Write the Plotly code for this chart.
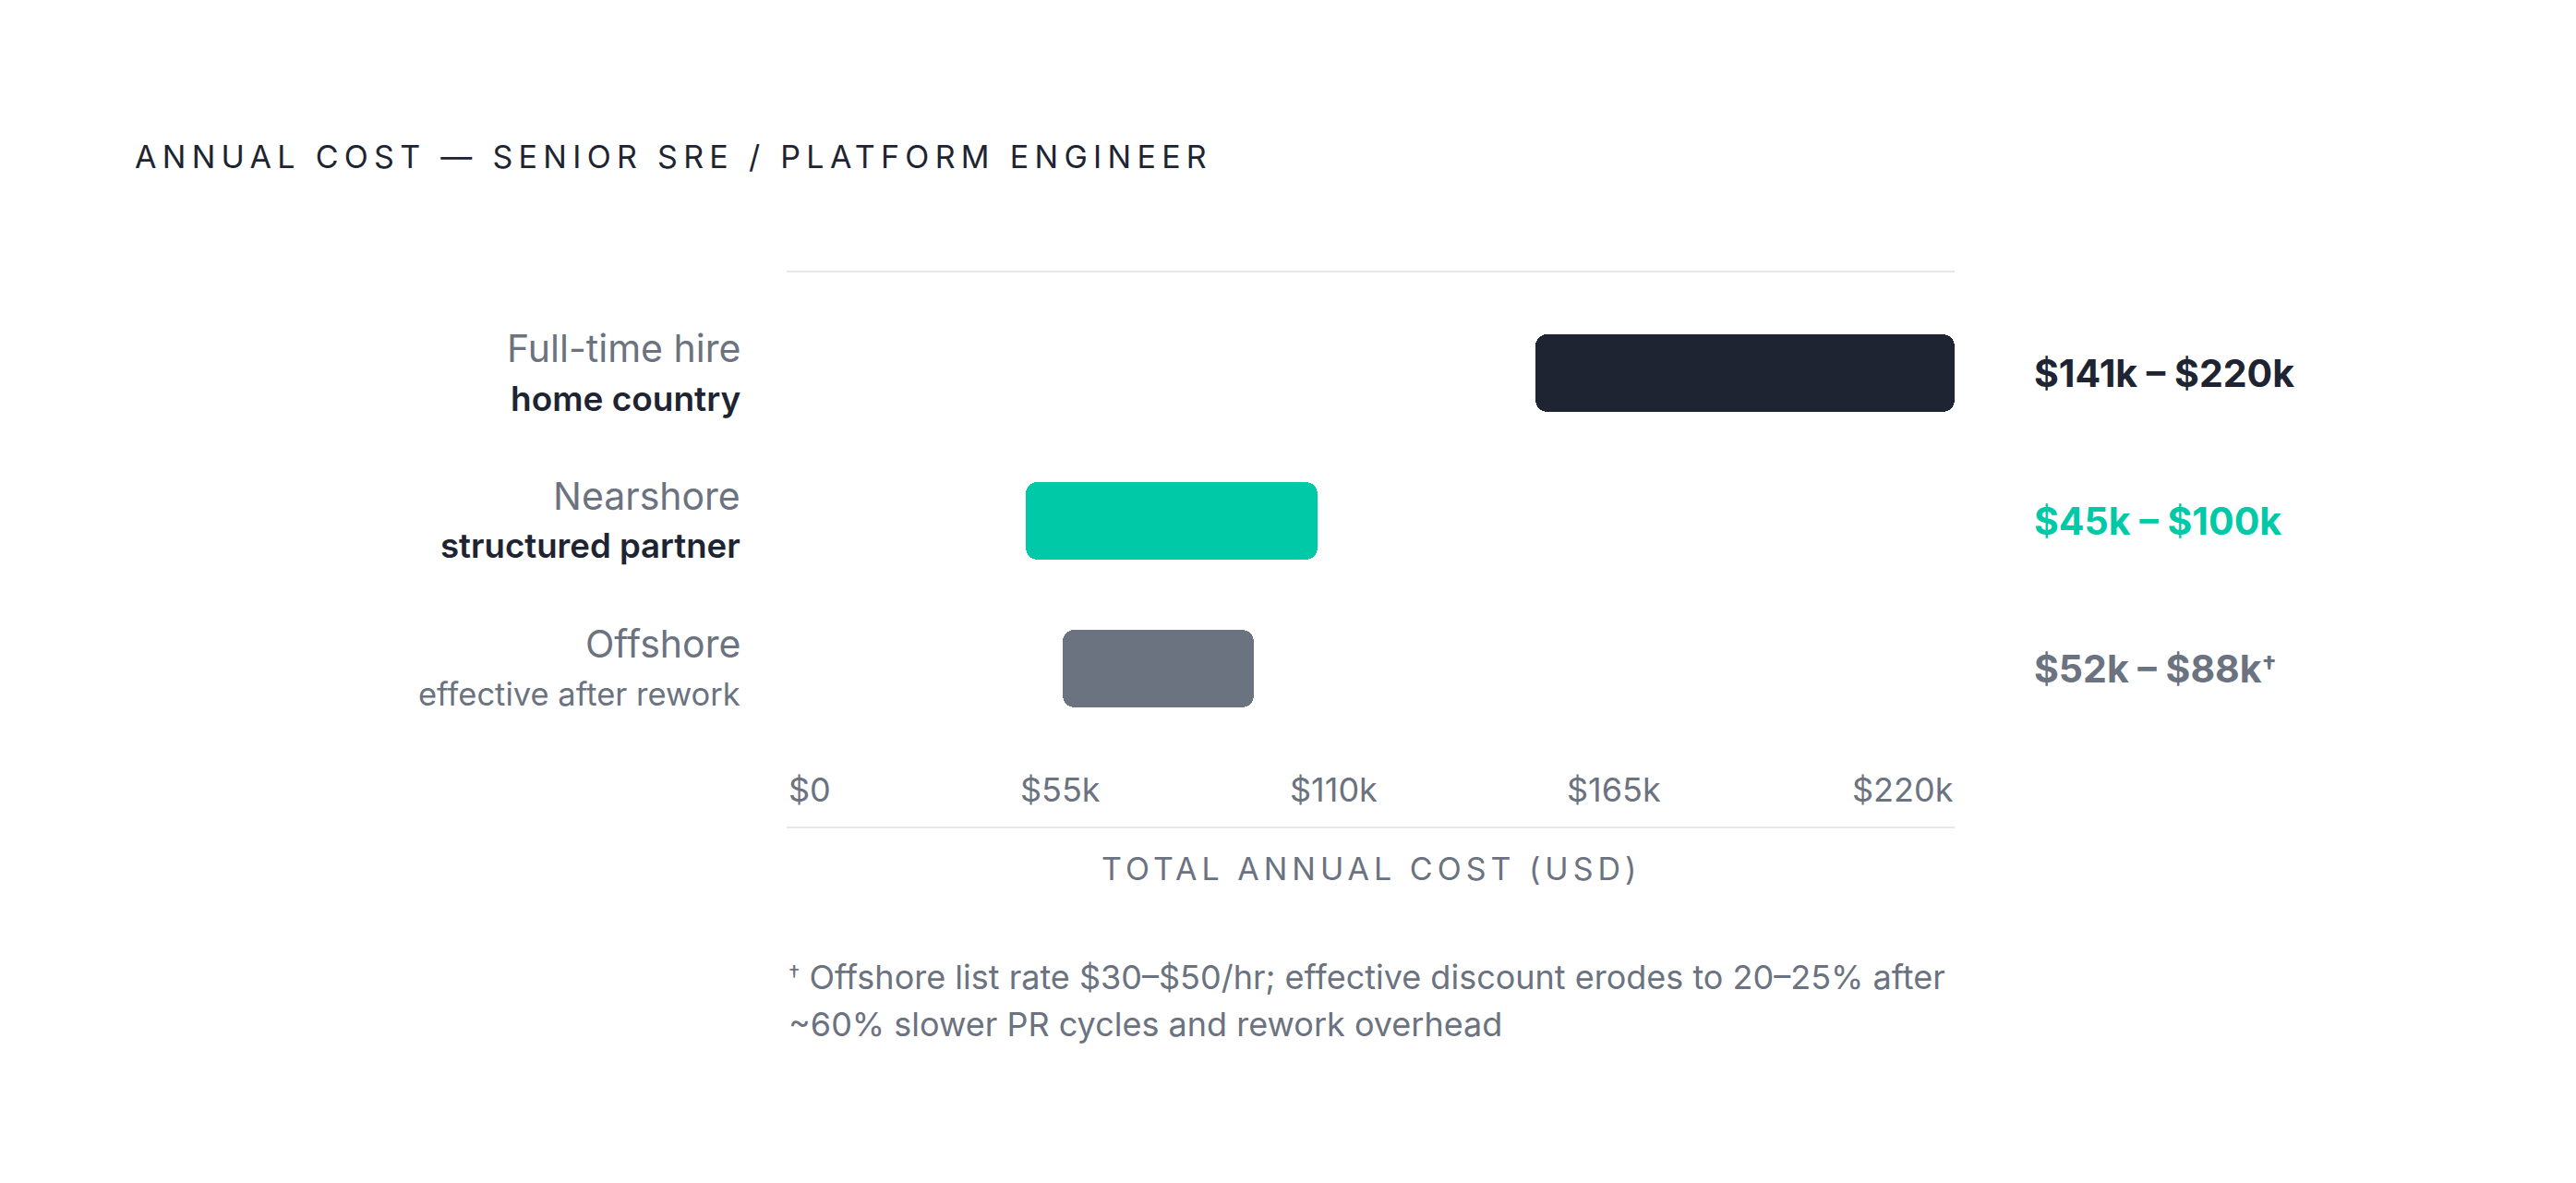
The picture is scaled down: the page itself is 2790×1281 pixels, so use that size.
import plotly.graph_objects as go

# data (k USD per year)
categories = ["Full-time hire", "Nearshore", "Offshore"]
sublabels = ["home country", "structured partner", "effective after rework"]
low_k = [141, 45, 52]
high_k = [220, 100, 88]
notes = ["", "", "†"]
tick_vals = [0, 55, 110, 165, 220]
tick_text = ["$0", "$55k", "$110k", "$165k", "$220k"]
footnote_lines = [
    "Offshore list rate $30–$50/hr; effective discount erodes to 20–25% after",
    "~60% slower PR cycles and rework overhead",
]

DARK = "#1e2431"
TEAL = "#00c9a7"
GRAY = "#6b7280"
LINE = "#e5e7eb"
FONT = "Inter"

bar_colors = [DARK, TEAL, GRAY]
sub_colors = [DARK, DARK, GRAY]
sub_weights = [600, 600, 400]
sub_sizes = [37, 36.6, 34.5]

# page body adds an 8px margin, so the figure is drawn 8px smaller
W, H = 2782, 1273


def dagger(size, shift):
    # small raised dagger that tops out near cap height
    return f"<span style='font-size:{size}px;baseline-shift:{shift}px'>†</span>"


def create_cost_chart():
    rows = list(range(len(categories)))

    fig = go.Figure()
    fig.add_trace(go.Bar(
        y=rows,
        x=[h - l for l, h in zip(low_k, high_k)],
        base=low_k,
        orientation="h",
        width=0.52,
        marker=dict(color=bar_colors, cornerradius=13, line=dict(width=0)),
        hoverinfo="skip",
        showlegend=False,
    ))

    annotations = []

    # row labels, two lines each
    for i, (cat, sub) in enumerate(zip(categories, sublabels)):
        annotations.append(dict(
            text=cat, xref="paper", yref="y", x=0, y=i,
            xanchor="right", yanchor="middle", xshift=-48, yshift=27,
            showarrow=False, font=dict(family=FONT, size=41, color=GRAY),
        ))
        annotations.append(dict(
            text=sub, xref="paper", yref="y", x=0, y=i,
            xanchor="right", yanchor="middle", xshift=-48, yshift=-27,
            showarrow=False,
            font=dict(family=FONT, size=sub_sizes[i], color=sub_colors[i],
                      weight=sub_weights[i]),
        ))

    # range labels to the right
    for i, (lo, hi, note) in enumerate(zip(low_k, high_k, notes)):
        label = f"${lo}k – ${hi}k"
        if note:
            label += dagger(28, 8)
        annotations.append(dict(
            text=label, xref="paper", yref="y", x=1, y=i,
            xanchor="left", yanchor="middle", xshift=84,
            showarrow=False,
            font=dict(family=FONT, size=41, color=bar_colors[i], weight=700),
        ))

    # tick labels spread edge to edge
    anchors = ["left", "center", "center", "right", "right"]
    shifts = [0, -20, -40, 0, 1]
    for v, t, a, s in zip(tick_vals, tick_text, anchors, shifts):
        annotations.append(dict(
            text=t, xref="x", yref="paper", x=v, y=0.067,
            xanchor=a, yanchor="middle", xshift=s,
            showarrow=False, font=dict(family=FONT, size=36, color=GRAY),
        ))

    # axis title
    annotations.append(dict(
        text="<span style='letter-spacing:5px'>TOTAL ANNUAL COST (USD)</span>",
        xref="paper", yref="paper", x=0.5, y=-0.075,
        xanchor="center", yanchor="middle", showarrow=False,
        font=dict(family=FONT, size=34, color=GRAY),
    ))

    # footnote, one annotation per line for a looser line height
    for k, (line, y) in enumerate(zip(footnote_lines, [-0.2717, -0.3567])):
        text = (dagger(25, 7) + " " + line) if k == 0 else line
        annotations.append(dict(
            text=text, xref="paper", yref="paper", x=0, y=y,
            xanchor="left", yanchor="middle", align="left", showarrow=False,
            font=dict(family=FONT, size=36, color=GRAY),
        ))

    fig.update_layout(
        title=dict(
            text="<span style='letter-spacing:6.3px'>ANNUAL COST — SENIOR SRE / PLATFORM ENGINEER</span>",
            xref="container", yref="container", x=138 / W, y=1 - 162 / H,
            xanchor="left", yanchor="middle",
            font=dict(family=FONT, size=34, color=DARK),
        ),
        width=W, height=H,
        margin=dict(l=844, r=673, t=287, b=386, pad=0),
        paper_bgcolor="white", plot_bgcolor="white",
        annotations=annotations,
        bargap=0,
    )

    fig.update_xaxes(
        range=[0, 220], showgrid=False, zeroline=False, showticklabels=False, ticks="",
        showline=True, mirror=True, linecolor=LINE, linewidth=2, fixedrange=True,
    )
    fig.update_yaxes(
        range=[3.06875, -0.68125], showgrid=False, zeroline=False,
        showticklabels=False, ticks="", showline=False, fixedrange=True,
    )
    return fig


if __name__ == "__main__":
    fig = create_cost_chart()
    fig.write_html("out.html")
